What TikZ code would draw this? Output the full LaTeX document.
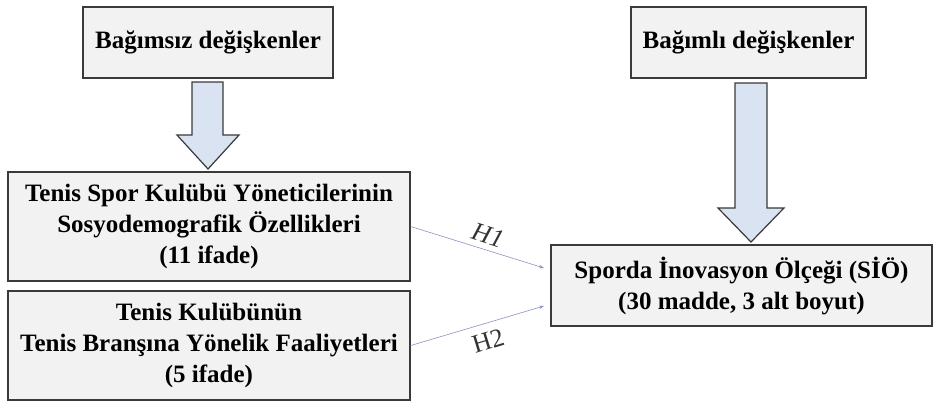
\documentclass[tikz,border=0pt]{standalone}
\usepackage{fontspec}
\setmainfont{Liberation Serif}
\usetikzlibrary{arrows.meta}
\definecolor{boxfill}{HTML}{F2F2F2}
\definecolor{boxdraw}{HTML}{3A3A3A}
\definecolor{arrfill}{HTML}{D9E3F1}
\definecolor{hline}{HTML}{8A93C0}
\begin{document}
\begin{tikzpicture}[x=1pt,y=-1pt,
  vbox/.style={draw=boxdraw,fill=boxfill,line width=1.4pt,inner sep=0pt,
    align=center,font=\fontsize{25}{31}\selectfont\bfseries},
  bigarrow/.style={draw=boxdraw,fill=arrfill,line width=1.2pt,line join=miter},
  hyp/.style={draw=hline,line width=0.6pt,-{Stealth[length=5pt,width=3.5pt]}},
  hlabel/.style={font=\fontsize{26}{26}\selectfont,text=black!80,inner sep=0pt}]
\useasboundingbox (0,0) rectangle (936,408);
% boxes
\node[vbox,minimum width=250,minimum height=71] (b1) at (208,42.5) {Bağımsız değişkenler};
\node[vbox,minimum width=235,minimum height=71] (b2) at (748.5,42.5) {Bağımlı değişkenler};
\node[vbox,minimum width=402,minimum height=109] (b3) at (209,226.5)
  {Tenis Spor Kulübü Yöneticilerinin\\Sosyodemografik Özellikleri\\(11 ifade)};
\node[vbox,minimum width=402,minimum height=109] (b4) at (209,345.5)
  {Tenis Kulübünün\\Tenis Branşına Yönelik Faaliyetleri\\(5 ifade)};
\node[vbox,minimum width=381,minimum height=81] (b5) at (741.5,285.5)
  {Sporda İnovasyon Ölçeği (SİÖ)\\(30 madde, 3 alt boyut)};
% block arrows
\draw[bigarrow] (192,82) -- (223,82) -- (223,135) -- (239,135) -- (208,169)
  -- (177,135) -- (192,135) -- cycle;
\draw[bigarrow] (735,83) -- (767,83) -- (767,208) -- (784,208) -- (751,242)
  -- (718,208) -- (735,208) -- cycle;
% hypotheses
\coordinate (h1e) at (544,268);
\coordinate (h2e) at (544,306);
\draw[hyp] (b3.east) -- (h1e);
\draw[hyp] (b4.east) -- (h2e);
\node[hlabel,rotate=-18] (h1) at (488,235) {\textit{H1}};
\node[hlabel,rotate=17] (h2) at (488,341) {H2};
\end{tikzpicture}
\end{document}
